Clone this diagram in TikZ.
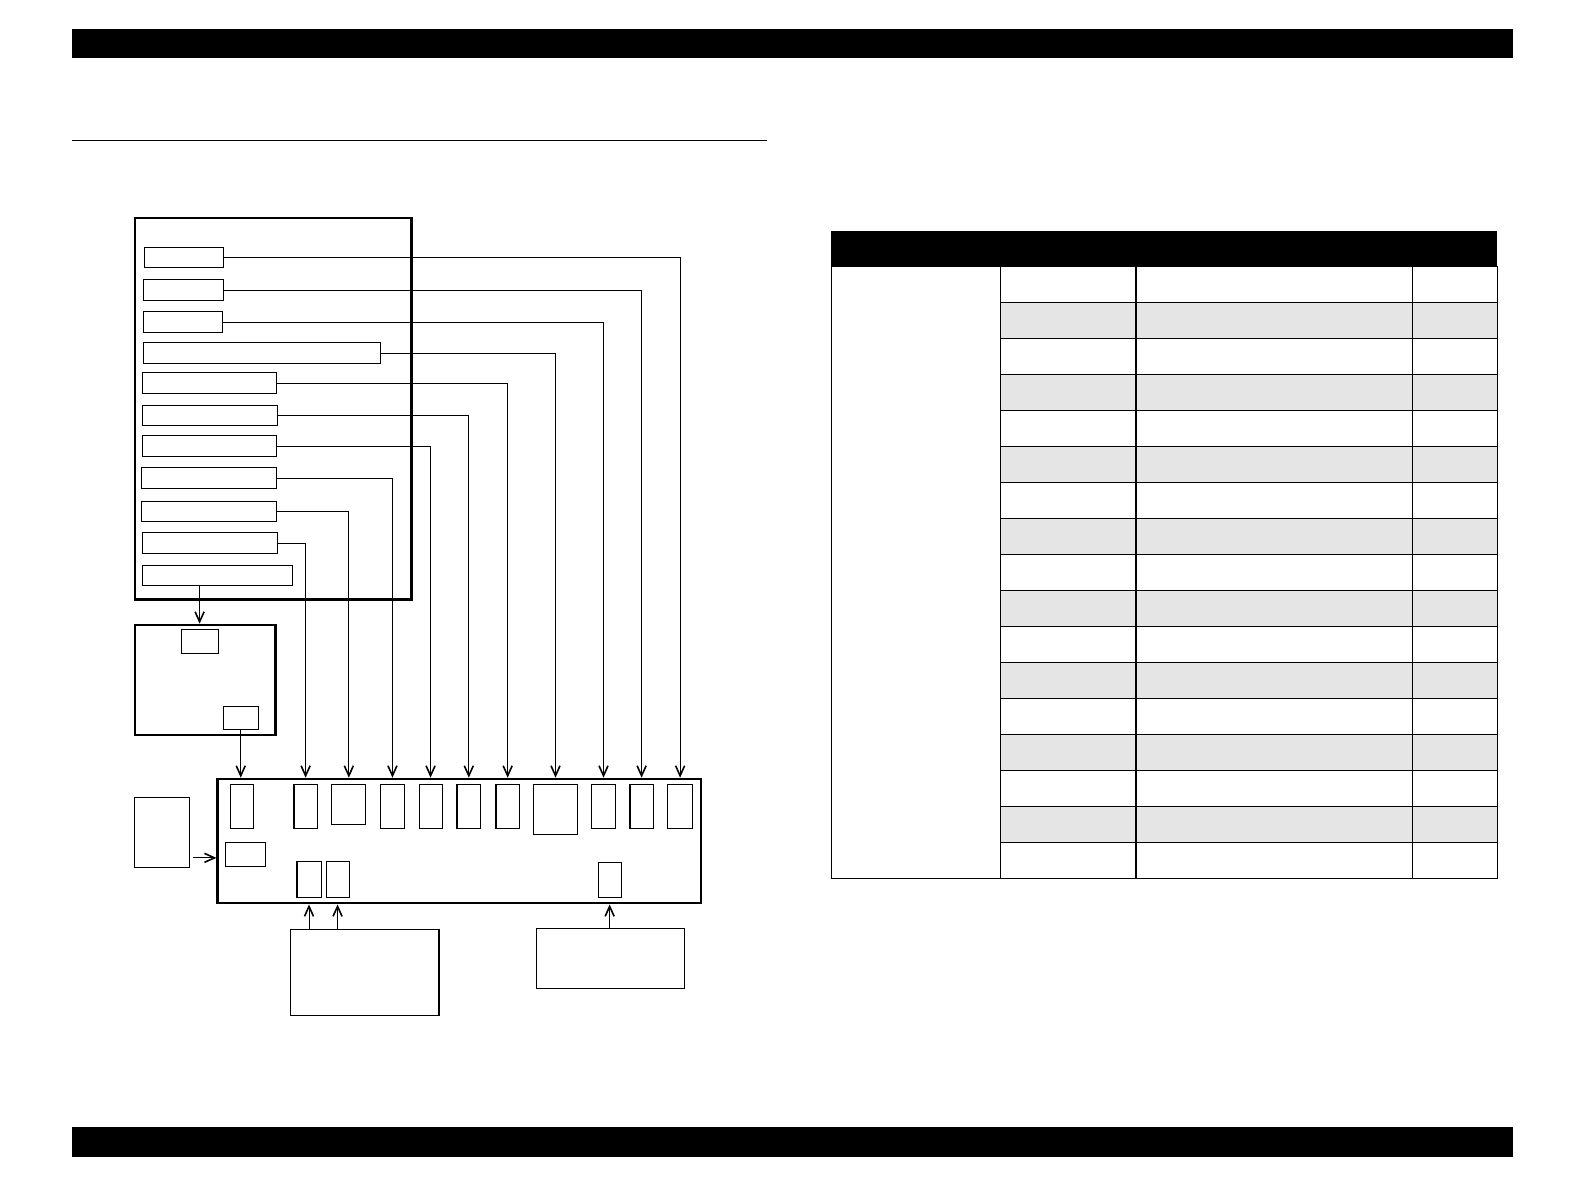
\documentclass[tikz,border=0pt]{standalone}
\usetikzlibrary{arrows.meta}
\begin{document}
\begin{tikzpicture}[x=0.5pt,y=-0.5pt,
	thinbox/.style={draw,line width=0.55pt,inner sep=0pt,anchor=north west},
	thickbox/.style={draw,line width=1.2pt,inner sep=0pt,anchor=north west},
	link/.style={line width=0.5pt,-{Straight Barb[length=5pt,width=4.5pt,line width=0.8pt]}}]
	\useasboundingbox (0,0) rectangle (1582,1188);
	% page bars and rule
	\fill (71.6,29.3) rectangle (1513.4,58.5);
	\fill (71.6,1127) rectangle (1513.4,1157);
	\draw[line width=0.6pt] (72,140.2)--(767,140.2);
	% outer blocks
	\foreach \n/\x/\y/\w/\h in {top/133.7/216.7/276.6/381.6, mid/133.8/623.7/140.4/110.3,
		main/216.4/777.7/483.4/124.3}{
		\node[thickbox,minimum width=\w*0.5pt,minimum height=\h*0.5pt] (\n) at (\x,\y) {};
	}
	% boxes in the upper block
	\foreach \n/\x/\y/\w/\h in {s1/144.3/246.7/79/20.6, s2/143.3/279.3/80/21, s3/143.3/311.3/79/21,
		s4/143.3/342.3/237/21, s5/142.3/372.3/134/21, s6/142.3/405.3/135/20, s7/142.3/435.3/134/21,
		s8/141.3/467.3/135/21, s9/141.3/501.3/135/20, s10/142.3/532.3/135/21, s11/142.3/565.3/150/20}{
		\node[thinbox,minimum width=\w*0.5pt,minimum height=\h*0.5pt] (\n) at (\x,\y) {};
	}
	% boxes in the main block and round it
	\foreach \n/\x/\y/\w/\h in {mt/180.5/629.3/37.1/24, mb/222.6/706.3/35.2/23,
		b1/229.5/784.3/23.3/44, b2/293.4/784.3/23.3/44, b3/331.3/784.3/34/40, b4/380.2/784.3/23.4/44,
		b5/418.5/784.3/23/44, b6/456.4/784.3/23.7/44, b7/495.4/784.3/23.4/44, b8/533.3/784.3/43.3/50,
		b9/591.1/784.3/23.7/44, b10/629.4/784.3/23.3/44, b11/667.3/784.3/24.5/44,
		lm/224.5/842.3/40.2/23.4, c1/296.4/861.3/24.1/36, c2/325.5/861.3/23/36, c3/597.6/862.3/23/35,
		side/133.8/797.3/54.7/70, bl/290.3/929.3/148.1/86, br/535.6/928.3/148.1/60}{
		\node[thinbox,minimum width=\w*0.5pt,minimum height=\h*0.5pt] (\n) at (\x,\y) {};
	}
	% connectors
	\foreach \s/\t in {s1/b11, s2/b10, s3/b9, s4/b8, s5/b7, s6/b6, s7/b5, s8/b4, s9/b3, s10/b2}{
		\draw[link] (\s.east) -| (\t.north |- main.north);
	}
	\draw[link] (s11.south -| mt.north) -- (mt.north |- mid.north);
	\draw[link] (mb.south) -- (mb.south |- main.north);
	\draw[link] ([shift={(3,25)}]side.east) -- ([yshift=-25*0.5pt]main.west |- side.east);
	\foreach \c in {c1,c2}{
		\draw[link] (\c.south |- bl.north) -- (\c.south |- main.south);
	}
	\draw[link] (c3.south |- br.north) -- (c3.south |- main.south);
	% table
	\fill (831.3,231) rectangle (1497.2,266.4);
	\foreach \i in {2,4,...,16}{
		\pgfmathsetmacro\ya{266.4+(\i-1)*36.02}
		\fill[black!10] (1000.8,\ya) rectangle (1497.2,\ya+36.02);
	}
	\foreach \i in {1,...,16}{
		\pgfmathsetmacro\ya{266.4+\i*36.02}
		\draw[line width=0.65pt] (1000.8,\ya)--(1497.2,\ya);
	}
	\foreach \x in {1000.8,1136,1412.5}{
		\draw[line width=0.65pt] (\x,266.4)--(\x,878.8);
	}
	\draw[line width=0.65pt] (831.3,266.4) rectangle (1497.2,878.8);
\end{tikzpicture}
\end{document}
